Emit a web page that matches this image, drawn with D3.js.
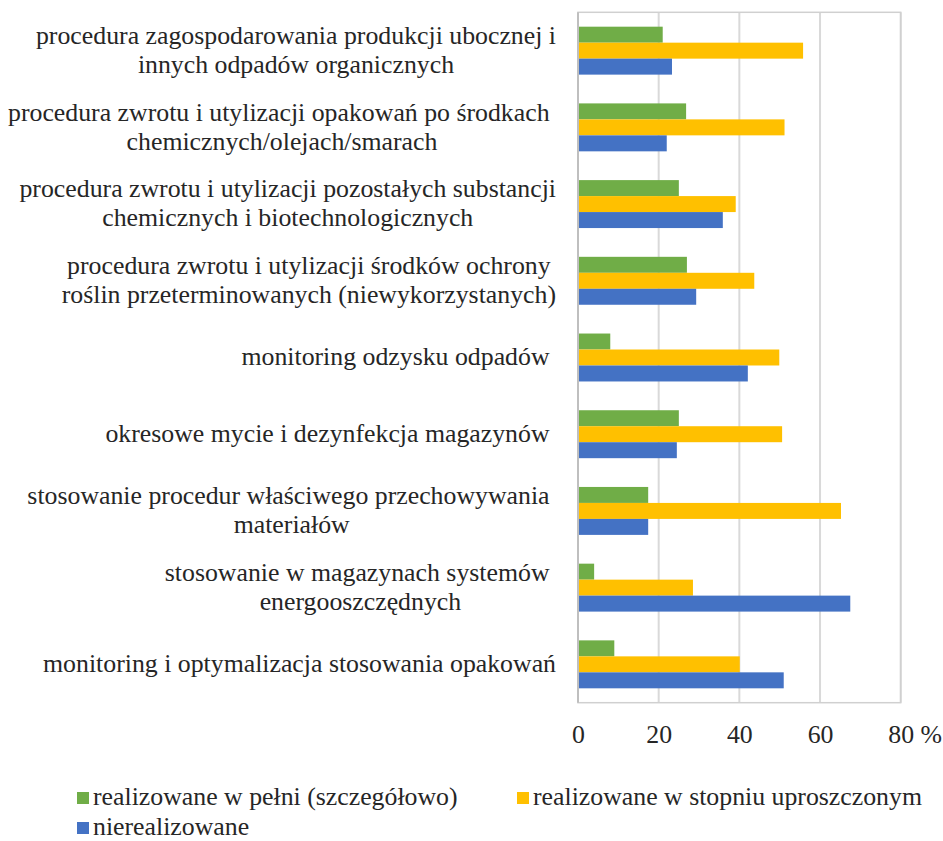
<!DOCTYPE html>
<html>
<head>
<meta charset="utf-8">
<script src="https://cdn.jsdelivr.net/npm/d3@7"></script>
<style>
  body { margin: 0; background: #fff; }
  svg text {
    font-family: "Liberation Serif", Tinos, "Times New Roman", Times, "Nimbus Roman", "Nimbus Roman No9 L",
                 FreeSerif, "Noto Serif", "DejaVu Serif", Georgia, serif !important;
    fill: #262626;
  }
</style>
</head>
<body>
<div class="chart"></div>
<script>
// categories, top to bottom (trailing spaces kept as in the original labels)
var categories = [
    ["procedura zagospodarowania produkcji ubocznej i", "innych odpadów organicznych"],
    ["procedura zwrotu i utylizacji opakowań po środkach ", "chemicznych/olejach/smarach"],
    ["procedura zwrotu i utylizacji pozostałych substancji", "chemicznych i biotechnologicznych"],
    ["procedura zwrotu i utylizacji środków ochrony", "roślin przeterminowanych (niewykorzystanych)"],
    ["monitoring odzysku odpadów "],
    ["okresowe mycie i dezynfekcja magazynów "],
    ["stosowanie procedur właściwego przechowywania ", "materiałów"],
    ["stosowanie w magazynach systemów ", "energooszczędnych"],
    ["monitoring i optymalizacja stosowania opakowań"]
];

var seriesNames = ["realizowane w pełni (szczegółowo)", "realizowane w stopniu uproszczonym", "nierealizowane"];
var seriesColors = ["#70ad47", "#ffc000", "#4472c4"];

// % values per category, same order as categories
var fullValues = [21.0, 26.8, 25.0, 27.0, 8.0, 25.0, 17.4, 4.0, 9.0];
var simplifiedValues = [55.8, 51.2, 39.1, 43.7, 49.9, 50.6, 65.2, 28.5, 40.1];
var notValues = [23.3, 22.0, 35.9, 29.3, 42.1, 24.5, 17.4, 67.5, 51.0];

var xTicks = [0, 20, 40, 60, 80];

var svgWidth = 943, svgHeight = 841;
var margin = { top: 12.3, left: 578, right: 42.3, bottom: 138.3 };
var width = svgWidth - margin.left - margin.right;
var height = svgHeight - margin.top - margin.bottom;
var fontSize = 25.8;
var serif = "'Liberation Serif', Tinos, 'Times New Roman', Times, 'Nimbus Roman', FreeSerif, 'Noto Serif', 'DejaVu Serif', serif";

var svg = d3.select(".chart").append("svg")
    .attr("width", svgWidth)
    .attr("height", svgHeight)
    .attr("font-family", serif);

var chart = svg.append("g")
    .attr("transform", "translate(" + margin.left + "," + margin.top + ")");

var x = d3.scaleLinear().domain([0, 80]).range([0, width]);
var y = d3.scaleBand()
    .domain(d3.range(categories.length))
    .range([0, height])
    .paddingInner(0.375)
    .paddingOuter(0.1875);
var ySub = d3.scaleBand().domain([0, 1, 2]).range([0, y.bandwidth()]);

var series = [fullValues, simplifiedValues, notValues];

// gridlines
chart.append("g").selectAll("line")
    .data(xTicks.slice(1))
    .enter().append("line")
    .attr("x1", function(d) { return x(d); })
    .attr("x2", function(d) { return x(d); })
    .attr("y1", 0)
    .attr("y2", height)
    .attr("stroke", "#d9d9d9")
    .attr("stroke-width", 2);

// plot area border
chart.append("rect")
    .attr("x", 0).attr("y", 0)
    .attr("width", width).attr("height", height)
    .attr("fill", "none")
    .attr("stroke", "#d0d0d0")
    .attr("stroke-width", 1.5);

// bars
series.forEach(function(vals, s) {
    chart.append("g").selectAll("rect")
        .data(vals)
        .enter().append("rect")
        .attr("x", 0)
        .attr("y", function(d, i) { return y(i) + ySub(s); })
        .attr("width", function(d) { return x(d); })
        .attr("height", ySub.bandwidth())
        .attr("fill", seriesColors[s]);
});

// vertical axis line
chart.append("line")
    .attr("x1", 0).attr("x2", 0)
    .attr("y1", 0).attr("y2", height)
    .attr("stroke", "#bfbfbf")
    .attr("stroke-width", 2);

// x axis labels
var xAxis = chart.append("g")
    .attr("transform", "translate(0," + height + ")")
    .call(d3.axisBottom(x).tickValues(xTicks).tickSize(0).tickPadding(0)
        .tickFormat(function(d) { return d === 80 ? "80 %" : d; }));
xAxis.attr("font-family", serif).attr("font-size", fontSize);
xAxis.select(".domain").remove();
xAxis.selectAll("text")
    .attr("y", 40.5)
    .attr("dy", 0)
    .attr("font-family", serif)
    .style("font-size", fontSize + "px")
    .attr("fill", "#262626");
xAxis.selectAll(".tick").filter(function(d) { return d === 80; }).select("text")
    .attr("text-anchor", "start")
    .attr("x", -fontSize * 0.5);

// category labels: lines centred on each other, widest line ends at the axis
var lineHeight = 29;
var labelRight = -22;
categories.forEach(function(lines, i) {
    var cy = y(i) + y.bandwidth() / 2;
    var g = chart.append("g");
    var texts = lines.map(function(line, k) {
        return g.append("text")
            .attr("xml:space", "preserve")
            .style("white-space", "pre")
            .attr("font-family", serif)
            .style("font-size", fontSize + "px")
            .attr("text-anchor", "middle")
            .attr("y", cy + (k - (lines.length - 1) / 2) * lineHeight + fontSize * 0.3)
            .text(line);
    });
    var maxW = d3.max(texts, function(t) { return t.node().getComputedTextLength(); });
    texts.forEach(function(t) { t.attr("x", labelRight - maxW / 2); });
});

// legend
var legendItems = [
    { x: 77, y: 805 },
    { x: 517, y: 805 },
    { x: 77, y: 835 }
];
var legend = svg.append("g");
legendItems.forEach(function(p, s) {
    legend.append("rect")
        .attr("x", p.x)
        .attr("y", p.y - 13)
        .attr("width", 12)
        .attr("height", 12)
        .attr("fill", seriesColors[s]);
    legend.append("text")
        .attr("x", p.x + 16)
        .attr("y", p.y)
        .attr("font-family", serif)
        .style("font-size", fontSize + "px")
        .text(seriesNames[s]);
});
</script>
</body>
</html>
